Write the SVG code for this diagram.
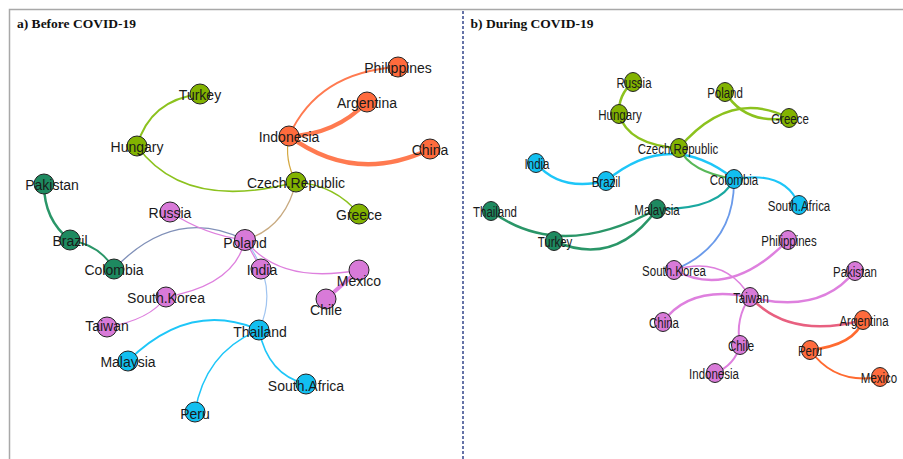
<svg xmlns="http://www.w3.org/2000/svg" width="903" height="459" viewBox="0 0 903 459">
<style>
.frame{stroke:#a8a8a8;stroke-width:1.5;fill:none}
.title{font-family:"Liberation Serif","Times New Roman",serif;font-weight:bold;font-size:13.5px;fill:#111}
.lbl{font-family:"Liberation Sans",Arial,sans-serif;font-size:14px;fill:#1a1a1a;text-anchor:middle}
.lbr{font-family:"Liberation Sans",Arial,sans-serif;font-size:14px;fill:#1a1a1a;text-anchor:middle}
.e{fill:none;stroke-linecap:round}
.n{stroke:#222;stroke-width:1}
.g{fill:#82b300}.o{fill:#ff6b3d}.s{fill:#1e8a60}.v{fill:#d87ad8}.b{fill:#12bff0}
.eg{stroke:#8cc21e}.eo{stroke:#ff7a50}.es{stroke:#2a9668}.ev{stroke:#de80de}.eb{stroke:#1ec6f8}
</style>
<g id="frame">
<path class="frame" d="M9.5,459 V9.5 H903"/>
<line x1="463" y1="11" x2="463" y2="459" stroke="#34468c" stroke-width="1.5" stroke-dasharray="3,2"/>
<text class="title" x="17" y="28">a) Before COVID-19</text>
<text class="title" x="470.5" y="27.5">b) During COVID-19</text>
</g>
<g id="connectors">
<path class="e eg" stroke-width="2" d="M200,94 Q150,100 137,146"/>
<path class="e eg" stroke-width="1.5" d="M137,146 Q185,212 296,182"/>
<path class="e eg" stroke-width="1.5" d="M296,182 Q335,185 359,214"/>
<path class="e" stroke="#d4a840" stroke-width="1.2" d="M289,136 Q284,160 296,182"/>
<path class="e" stroke="#c8aa80" stroke-width="1.2" d="M296,182 Q285,228 245,240"/>
<path class="e eo" stroke-width="1.8" d="M289,136 Q318,72 398,67"/>
<path class="e eo" stroke-width="4" d="M289,136 Q335,135 367,102"/>
<path class="e eo" stroke-width="4.5" d="M289,136 Q355,185 430,149"/>
<path class="e es" stroke-width="2.5" d="M44,184 Q44,220 70,240"/>
<path class="e es" stroke-width="2" d="M70,240 Q100,245 114,269"/>
<path class="e" stroke="#8090b8" stroke-width="1.3" d="M114,269 Q175,205 245,240"/>
<path class="e ev" stroke-width="1.3" d="M170,212 Q205,235 245,240"/>
<path class="e ev" stroke-width="1.3" d="M245,240 Q235,285 166,297"/>
<path class="e ev" stroke-width="1.3" d="M245,240 L261,269"/>
<path class="e ev" stroke-width="1.3" d="M245,240 Q280,285 359,270"/>
<path class="e" stroke="#a0c4f0" stroke-width="1.2" d="M245,240 Q280,285 259,330"/>
<path class="e ev" stroke-width="4" d="M359,270 L326,299"/>
<path class="e ev" stroke-width="1.3" d="M166,297 Q150,320 107,327"/>
<path class="e eb" stroke-width="2" d="M259,330 Q190,300 128,361"/>
<path class="e eb" stroke-width="1.5" d="M259,330 Q205,352 195,412"/>
<path class="e eb" stroke-width="1.5" d="M259,330 Q268,375 306,384"/>
<path class="e eg" stroke-width="2.5" d="M633,82 Q618,95 619,114"/>
<path class="e eg" stroke-width="2.5" d="M619,114 Q628,145 679,148"/>
<path class="e eg" stroke-width="2.5" d="M679,148 Q730,88 789,118"/>
<path class="e eg" stroke-width="2.5" d="M725,92 Q745,125 789,118"/>
<path class="e eb" stroke-width="2.5" d="M606,181 Q670,128 734,179"/>
<path class="e eb" stroke-width="2.5" d="M536,163 Q560,192 606,181"/>
<path class="e" stroke="#58b858" stroke-width="2" d="M679,148 Q690,172 734,179"/>
<path class="e eb" stroke-width="2" d="M734,179 Q785,170 799,205"/>
<path class="e" stroke="#1aa8a0" stroke-width="2" d="M734,179 Q720,210 657,209"/>
<path class="e" stroke="#6a9aea" stroke-width="1.8" d="M734,179 Q735,245 674,270"/>
<path class="e es" stroke-width="2.5" d="M491,211 Q560,262 657,209"/>
<path class="e es" stroke-width="2.5" d="M554,241 Q615,268 657,209"/>
<path class="e ev" stroke-width="2.5" d="M674,270 Q730,300 788,240"/>
<path class="e ev" stroke-width="1.5" d="M674,270 Q725,255 750,297"/>
<path class="e ev" stroke-width="2.5" d="M663,322 Q690,285 750,297"/>
<path class="e ev" stroke-width="2.5" d="M750,297 Q820,315 855,271"/>
<path class="e ev" stroke-width="2" d="M750,297 Q735,318 740,345"/>
<path class="e ev" stroke-width="2" d="M740,345 Q735,365 715,373"/>
<path class="e" stroke="#e86080" stroke-width="2.5" d="M750,297 Q790,340 863,320"/>
<path class="e" stroke="#ff6a30" stroke-width="2.5" d="M863,320 Q855,345 810,350"/>
<path class="e" stroke="#ff6a30" stroke-width="2" d="M810,350 Q835,385 880,377"/>
</g>
<g id="a-Turkey"><circle class="n g" cx="200" cy="94" r="10"/><text class="lbl" x="200" y="100">Turkey</text></g>
<g id="a-Hungary"><circle class="n g" cx="137" cy="146" r="10"/><text class="lbl" x="137" y="152">Hungary</text></g>
<g id="a-Philippines"><circle class="n o" cx="398" cy="67" r="10"/><text class="lbl" x="398" y="73">Philippines</text></g>
<g id="a-Argentina"><circle class="n o" cx="367" cy="102" r="10"/><text class="lbl" x="367" y="108">Argentina</text></g>
<g id="a-Indonesia"><circle class="n o" cx="289" cy="136" r="10"/><text class="lbl" x="289" y="142">Indonesia</text></g>
<g id="a-China"><circle class="n o" cx="430" cy="149" r="10"/><text class="lbl" x="430" y="155">China</text></g>
<g id="a-Pakistan"><circle class="n s" cx="44" cy="184" r="10"/><text class="lbl" x="52" y="190">Pakistan</text></g>
<g id="a-Czech"><circle class="n g" cx="296" cy="182" r="10"/><text class="lbl" x="296" y="188">Czech.Republic</text></g>
<g id="a-Greece"><circle class="n g" cx="359" cy="214" r="10"/><text class="lbl" x="359" y="220">Greece</text></g>
<g id="a-Russia"><circle class="n v" cx="170" cy="212" r="10"/><text class="lbl" x="170" y="218">Russia</text></g>
<g id="a-Brazil"><circle class="n s" cx="70" cy="240" r="10"/><text class="lbl" x="70" y="246">Brazil</text></g>
<g id="a-Poland"><circle class="n v" cx="245" cy="240" r="10.5"/><text class="lbl" x="245" y="248">Poland</text></g>
<g id="a-Colombia"><circle class="n s" cx="114" cy="269" r="10"/><text class="lbl" x="114" y="275">Colombia</text></g>
<g id="a-India"><circle class="n v" cx="261" cy="269" r="10"/><text class="lbl" x="262" y="275">India</text></g>
<g id="a-Mexico"><circle class="n v" cx="359" cy="270" r="10"/><text class="lbl" x="359" y="286">Mexico</text></g>
<g id="a-SouthKorea"><circle class="n v" cx="166" cy="297" r="10"/><text class="lbl" x="166" y="303">South.Korea</text></g>
<g id="a-Chile"><circle class="n v" cx="326" cy="299" r="10"/><text class="lbl" x="326" y="315">Chile</text></g>
<g id="a-Taiwan"><circle class="n v" cx="107" cy="327" r="10"/><text class="lbl" x="107" y="331">Taiwan</text></g>
<g id="a-Thailand"><circle class="n b" cx="259" cy="330" r="10"/><text class="lbl" x="260" y="337">Thailand</text></g>
<g id="a-Malaysia"><circle class="n b" cx="128" cy="361" r="10"/><text class="lbl" x="128" y="367">Malaysia</text></g>
<g id="a-SouthAfrica"><circle class="n b" cx="306" cy="384" r="10"/><text class="lbl" x="306" y="391">South.Africa</text></g>
<g id="a-Peru"><circle class="n b" cx="195" cy="412" r="10"/><text class="lbl" x="195" y="419">Peru</text></g>
<g id="b-Russia"><ellipse class="n g" cx="633" cy="82" rx="8.5" ry="9.5"/><text class="lbr" transform="translate(634,88) scale(0.82,1)">Russia</text></g>
<g id="b-Poland"><ellipse class="n g" cx="725" cy="92" rx="8.5" ry="9.5"/><text class="lbr" transform="translate(725,98) scale(0.82,1)">Poland</text></g>
<g id="b-Hungary"><ellipse class="n g" cx="619" cy="114" rx="8.5" ry="9.5"/><text class="lbr" transform="translate(620,120) scale(0.82,1)">Hungary</text></g>
<g id="b-Greece"><ellipse class="n g" cx="789" cy="118" rx="8.5" ry="9.5"/><text class="lbr" transform="translate(790,124) scale(0.82,1)">Greece</text></g>
<g id="b-Czech"><ellipse class="n g" cx="679" cy="148" rx="8.5" ry="9.5"/><text class="lbr" transform="translate(678,154) scale(0.82,1)">Czech.Republic</text></g>
<g id="b-India"><ellipse class="n b" cx="536" cy="163" rx="8.5" ry="9.5"/><text class="lbr" transform="translate(537,169) scale(0.82,1)">India</text></g>
<g id="b-Brazil"><ellipse class="n b" cx="606" cy="181" rx="8.5" ry="9.5"/><text class="lbr" transform="translate(606,187) scale(0.82,1)">Brazil</text></g>
<g id="b-Colombia"><ellipse class="n b" cx="734" cy="179" rx="8.5" ry="9.5"/><text class="lbr" transform="translate(734,185) scale(0.82,1)">Colombia</text></g>
<g id="b-SouthAfrica"><ellipse class="n b" cx="799" cy="205" rx="8.5" ry="9.5"/><text class="lbr" transform="translate(799,211) scale(0.82,1)">South.Africa</text></g>
<g id="b-Thailand"><ellipse class="n s" cx="491" cy="211" rx="8.5" ry="9.5"/><text class="lbr" transform="translate(495,217) scale(0.82,1)">Thailand</text></g>
<g id="b-Malaysia"><ellipse class="n s" cx="657" cy="209" rx="8.5" ry="9.5"/><text class="lbr" transform="translate(657,215) scale(0.82,1)">Malaysia</text></g>
<g id="b-Turkey"><ellipse class="n s" cx="554" cy="241" rx="8.5" ry="9.5"/><text class="lbr" transform="translate(555,247) scale(0.82,1)">Turkey</text></g>
<g id="b-Philippines"><ellipse class="n v" cx="788" cy="240" rx="8.5" ry="9.5"/><text class="lbr" transform="translate(789,246) scale(0.82,1)">Philippines</text></g>
<g id="b-SouthKorea"><ellipse class="n v" cx="674" cy="270" rx="8.5" ry="9.5"/><text class="lbr" transform="translate(674,276) scale(0.82,1)">South.Korea</text></g>
<g id="b-Pakistan"><ellipse class="n v" cx="855" cy="271" rx="8.5" ry="9.5"/><text class="lbr" transform="translate(855,277) scale(0.82,1)">Pakistan</text></g>
<g id="b-Taiwan"><ellipse class="n v" cx="750" cy="297" rx="8.5" ry="9.5"/><text class="lbr" transform="translate(751,303) scale(0.82,1)">Taiwan</text></g>
<g id="b-China"><ellipse class="n v" cx="663" cy="322" rx="8.5" ry="9.5"/><text class="lbr" transform="translate(664,328) scale(0.82,1)">China</text></g>
<g id="b-Argentina"><ellipse class="n o" cx="863" cy="320" rx="8.5" ry="9.5"/><text class="lbr" transform="translate(864,326) scale(0.82,1)">Argentina</text></g>
<g id="b-Chile"><ellipse class="n v" cx="740" cy="345" rx="8.5" ry="9.5"/><text class="lbr" transform="translate(741,351) scale(0.82,1)">Chile</text></g>
<g id="b-Peru"><ellipse class="n o" cx="810" cy="350" rx="8.5" ry="9.5"/><text class="lbr" transform="translate(810,356) scale(0.82,1)">Peru</text></g>
<g id="b-Indonesia"><ellipse class="n v" cx="715" cy="373" rx="8.5" ry="9.5"/><text class="lbr" transform="translate(714,379) scale(0.82,1)">Indonesia</text></g>
<g id="b-Mexico"><ellipse class="n o" cx="880" cy="377" rx="8.5" ry="9.5"/><text class="lbr" transform="translate(879,383) scale(0.82,1)">Mexico</text></g>
</svg>
